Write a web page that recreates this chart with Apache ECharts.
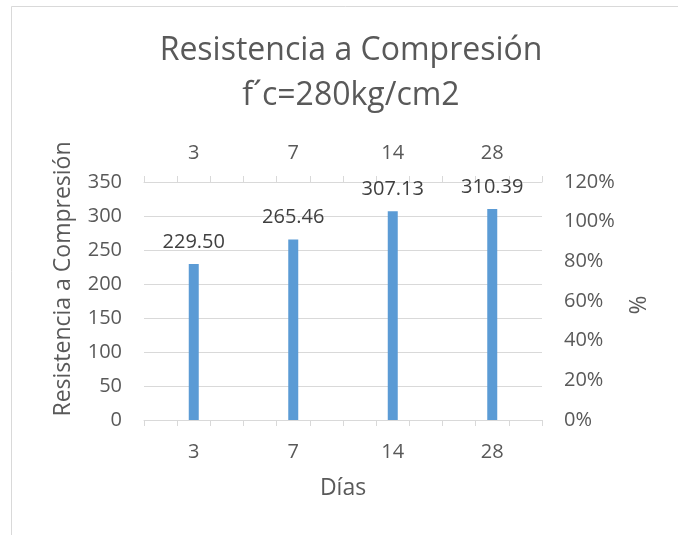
<!DOCTYPE html>
<html>
<head>
<meta charset="utf-8">
<script src="https://cdn.jsdelivr.net/npm/echarts@6/dist/echarts.min.js"></script>
<style>
  html, body { margin: 0; padding: 0; background: #fff; }
  #chart { width: 678px; height: 535px; }
</style>
</head>
<body>
<div id="chart"></div>
<script>
// Compressive strength of concrete f'c = 280 kg/cm2 by curing age
const dias = ['3', '7', '14', '28'];
const resistencia = [229.50, 265.46, 307.13, 310.39];
const resistenciaTicks = [0, 50, 100, 150, 200, 250, 300, 350];
const porcentajeTicks = [0, 0.2, 0.4, 0.6, 0.8, 1.0, 1.2];

const FONT = 'Open Sans';
const GREY = '#595959';
const LINE = '#d9d9d9';

const chart = echarts.init(document.getElementById('chart'), null, { renderer: 'canvas' });

const tickAxis = (position) => ({
  type: 'value',
  position: position,
  min: 0,
  max: dias.length * 3,
  interval: 1,
  axisLine: { show: true, lineStyle: { color: LINE, width: 1 } },
  axisTick: { show: true, length: 6, lineStyle: { color: LINE } },
  axisLabel: { show: false },
  splitLine: { show: false }
});

chart.setOption({
  animation: false,
  backgroundColor: '#ffffff',
  textStyle: { fontFamily: FONT },
  grid: { left: 144, right: 136, top: 182, bottom: 115 },
  xAxis: [
    {
      type: 'category',
      data: dias,
      position: 'bottom',
      axisLine: { show: false },
      axisTick: { show: false },
      axisLabel: { fontFamily: FONT, fontSize: 20, color: GREY, margin: 22 },
      name: 'Días',
      nameLocation: 'middle',
      nameGap: 57,
      nameTextStyle: { fontFamily: FONT, fontSize: 23, color: GREY }
    },
    tickAxis('bottom'),
    {
      type: 'category',
      data: dias,
      position: 'top',
      axisLine: { show: false },
      axisTick: { show: false },
      axisLabel: { fontFamily: FONT, fontSize: 20, color: GREY, margin: 19 }
    },
    tickAxis('top')
  ],
  yAxis: [
    {
      type: 'value',
      min: resistenciaTicks[0],
      max: resistenciaTicks[resistenciaTicks.length - 1],
      interval: resistenciaTicks[1] - resistenciaTicks[0],
      position: 'left',
      axisLine: { show: false },
      axisTick: { show: false },
      axisLabel: { fontFamily: FONT, fontSize: 20, color: GREY, margin: 22 },
      splitLine: { show: true, lineStyle: { color: LINE, width: 1 } }
    },
    {
      type: 'value',
      min: porcentajeTicks[0],
      max: porcentajeTicks[porcentajeTicks.length - 1],
      interval: porcentajeTicks[1] - porcentajeTicks[0],
      position: 'right',
      axisLine: { show: false },
      axisTick: { show: false },
      axisLabel: {
        fontFamily: FONT, fontSize: 20, color: GREY, margin: 22,
        formatter: (v) => Math.round(v * 100) + '%'
      },
      splitLine: { show: false }
    }
  ],
  graphic: [
    {
      type: 'rect',
      silent: true,
      shape: { x: 11.5, y: 6.5, width: 720, height: 600 },
      style: { fill: 'none', stroke: LINE, lineWidth: 1 }
    },
    {
      type: 'text',
      x: 351, y: 28,
      style: {
        text: 'Resistencia a Compresión\nf´c=280kg/cm2',
        fontFamily: FONT, fontSize: 32, fill: GREY, lineHeight: 45,
        align: 'center', verticalAlign: 'top'
      }
    },
    {
      type: 'text',
      x: 63, y: 279,
      rotation: Math.PI / 2,
      style: {
        text: 'Resistencia a Compresión',
        fontFamily: FONT, fontSize: 23, fill: GREY,
        align: 'center', verticalAlign: 'middle'
      }
    },
    {
      type: 'text',
      x: 639, y: 305,
      rotation: Math.PI / 2,
      style: {
        text: '%',
        fontFamily: FONT, fontSize: 23, fill: GREY,
        align: 'center', verticalAlign: 'middle'
      }
    }
  ],
  series: [
    {
      type: 'bar',
      xAxisIndex: 0,
      yAxisIndex: 0,
      data: resistencia,
      barWidth: 10,
      itemStyle: { color: '#5b9bd5' },
      label: {
        show: true,
        position: 'top',
        distance: 12,
        fontFamily: FONT,
        fontSize: 20,
        color: '#404040',
        formatter: (p) => p.value.toFixed(2)
      }
    }
  ]
});
</script>
</body>
</html>
